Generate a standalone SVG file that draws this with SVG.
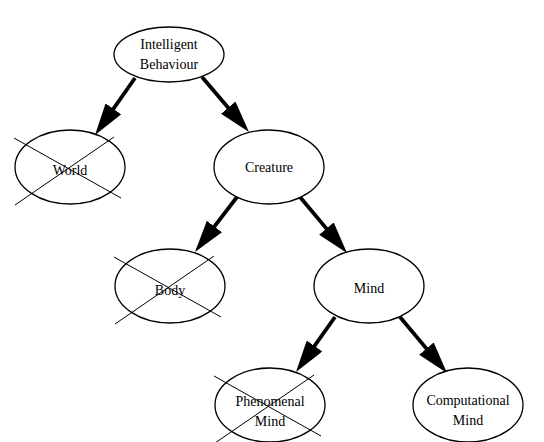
<svg xmlns="http://www.w3.org/2000/svg" width="544" height="442" viewBox="0 0 544 442">
<defs>
<style>
.node ellipse{fill:#fff;stroke:#000;stroke-width:1.3}
.node text{font-family:"Liberation Serif","Times New Roman",serif;font-size:14px;fill:#000;text-anchor:middle}
.cross line{stroke:#000;stroke-width:1}
.edge{stroke:#000;stroke-width:3.8;fill:none;marker-end:url(#ah)}
</style>
<marker id="ah" markerUnits="userSpaceOnUse" viewBox="0 0 32 19" refX="4" refY="9.5" markerWidth="32" markerHeight="19" orient="auto">
<path d="M0,0 L32,9.5 L0,19 Z" fill="#000"/>
</marker>
</defs>
<rect width="544" height="442" fill="#fff"/>
<g id="connectors">
<path class="edge" d="M135,78 L111.1,112.1"/>
<path class="edge" d="M202,77 L230.8,110.7"/>
<path class="edge" d="M237,197 L212,229.7"/>
<path class="edge" d="M300,197 L329,231.6"/>
<path class="edge" d="M335,317 L312.2,349.2"/>
<path class="edge" d="M400,317 L429,351.6"/>
</g>
<g id="intelligent-behaviour" class="node">
<ellipse cx="169" cy="54.5" rx="55" ry="27.5"/>
<text x="169" y="49">Intelligent</text>
<text x="169" y="69">Behaviour</text>
</g>
<g id="world" class="node">
<ellipse cx="70" cy="167" rx="55" ry="37"/>
<text x="70" y="175">World</text>
<g class="cross"><line x1="14" y1="138" x2="121" y2="198"/><line x1="15" y1="205" x2="114" y2="137"/></g>
</g>
<g id="creature" class="node">
<ellipse cx="269" cy="167" rx="55" ry="37"/>
<text x="269" y="172">Creature</text>
</g>
<g id="body" class="node">
<ellipse cx="170" cy="286" rx="55" ry="37"/>
<text x="170" y="295">Body</text>
<g class="cross"><line x1="114" y1="257" x2="221" y2="317"/><line x1="115" y1="324" x2="214" y2="256"/></g>
</g>
<g id="mind" class="node">
<ellipse cx="369" cy="286" rx="55" ry="37"/>
<text x="369" y="293">Mind</text>
</g>
<g id="phenomenal-mind" class="node">
<ellipse cx="270" cy="405" rx="55" ry="37"/>
<text x="270" y="406">Phenomenal</text>
<text x="270" y="426">Mind</text>
<g class="cross"><line x1="214" y1="376" x2="321" y2="436"/><line x1="215" y1="443" x2="314" y2="375"/></g>
</g>
<g id="computational-mind" class="node">
<ellipse cx="468" cy="405" rx="55" ry="37"/>
<text x="468" y="405">Computational</text>
<text x="468" y="425">Mind</text>
</g>
</svg>
